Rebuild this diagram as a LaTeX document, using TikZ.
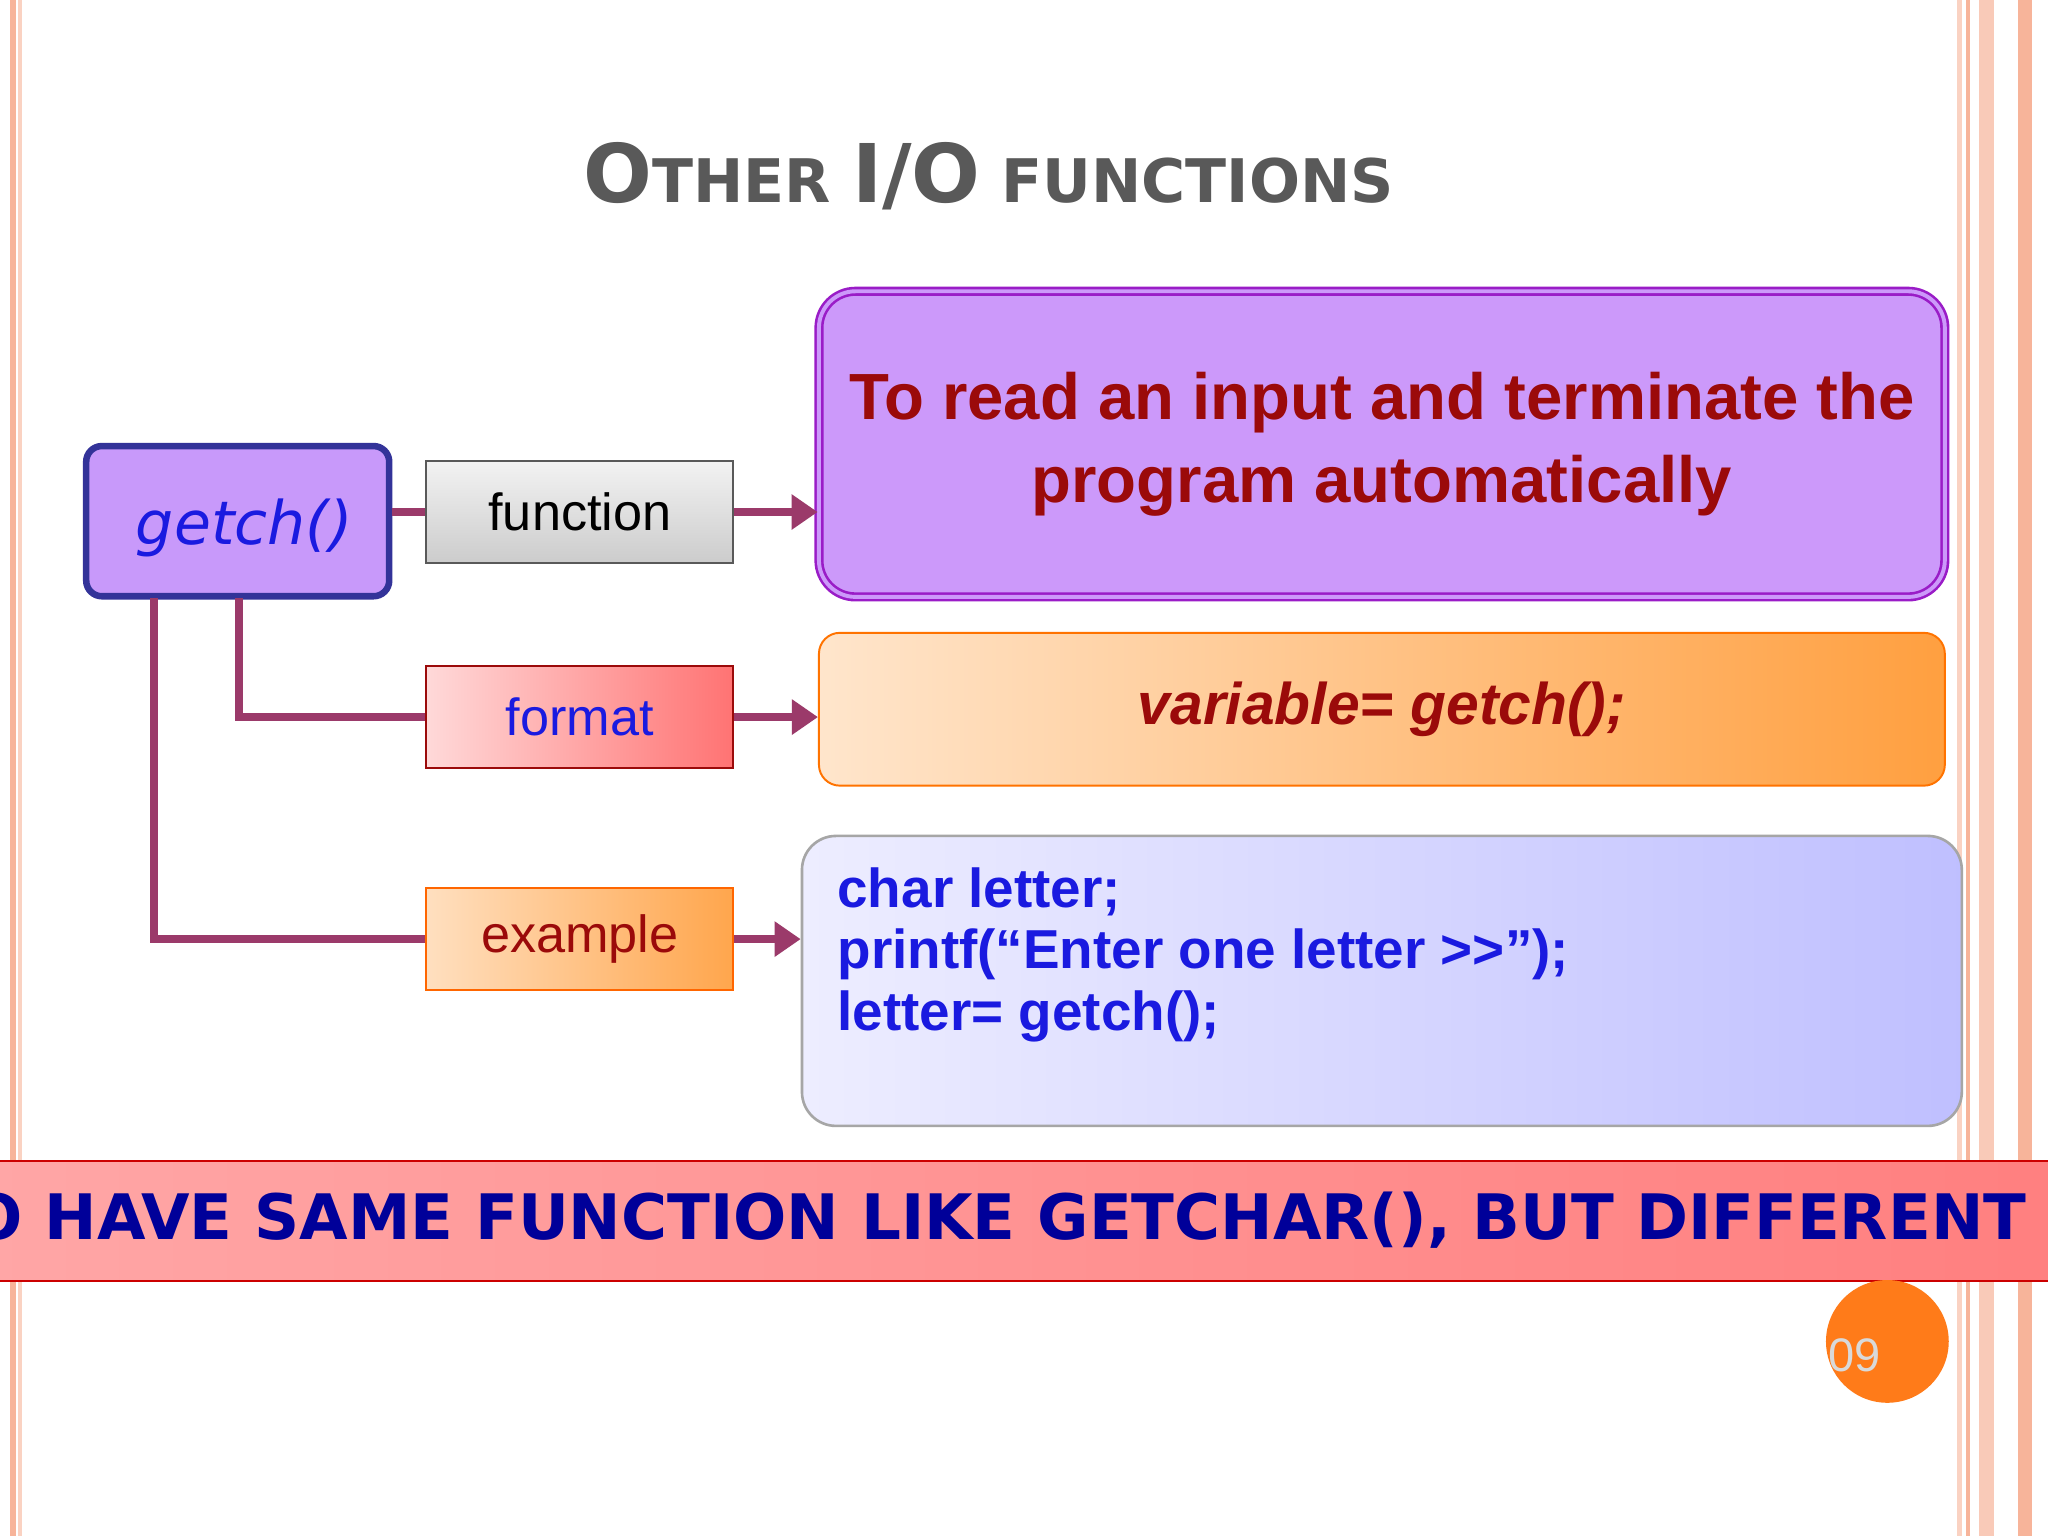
\documentclass[tikz,border=0pt]{standalone}
\usepackage{fontspec}
\setmainfont{Liberation Sans}
\newfontfamily\djfont{DejaVu Sans}
\usetikzlibrary{arrows.meta,shadings}
\definecolor{maroon}{HTML}{9B3A6A}
\definecolor{dred}{HTML}{9B0A0A}
\definecolor{cblue}{HTML}{1A1AE0}
\definecolor{salmon}{HTML}{F7B49A}
\tikzset{
 conn/.style={maroon,line width=6pt},
 arr/.style={maroon,line width=6pt,-{Triangle[length=20pt,width=26pt]}},
 lbox/.style={minimum width=235pt,minimum height=78pt,inner sep=0pt,font=\fontsize{40}{44}\selectfont,line width=1.5pt}
}
\begin{document}
\begin{tikzpicture}[x=1pt,y=-1pt]
\useasboundingbox (0,0) rectangle (1568,1176);
\fill[white] (0,0) rectangle (1568,1176);
% borders
\fill[salmon] (8,0) rectangle (12,1176);
\fill[salmon!60] (14,0) rectangle (17,1176);
\fill[salmon!60] (1498,0) rectangle (1502,1176);
\fill[salmon] (1505,0) rectangle (1508,1176);
\fill[salmon!70] (1515,0) rectangle (1527,1176);
\fill[salmon] (1545,0) rectangle (1556,1176);
% title
\node[text=gray!70!black,font=\djfont\bfseries\fontsize{46}{46}\selectfont] (title) at (757,135) {{\fontsize{62}{62}\selectfont O}THER\ {\fontsize{62}{62}\selectfont I/O}\ FUNCTIONS};
% getch box
\node[draw=blue!50!black!80,line width=5pt,fill={rgb,255:red,200;green,153;blue,250},rounded corners=12pt,minimum width=232pt,minimum height=115pt,text=cblue] (g) at (182,399) {};
\node[font=\djfont\itshape\fontsize{46}{50}\selectfont,text=cblue,inner sep=0pt] (gt) at (187,404) {getch()};
\node[lbox,draw=gray!70!black,top color=gray!10,bottom color=gray!40] (f) at (444,392) {function};
\node[lbox,draw=dred,left color=red!15,right color=red!55,text=cblue] (fm) at (444,549) {format};
\node[lbox,draw=orange!80!red,left color=orange!25,right color=orange!70,text=dred] (ex) at (444,719) {example};
% right boxes
\node[draw={rgb,255:red,154;green,28;blue,199},double={rgb,255:red,204;green,153;blue,250},double distance=3pt,line width=2pt,fill={rgb,255:red,204;green,153;blue,250},rounded corners=28pt,minimum width=862pt,minimum height=234pt,align=center,text=dred,font=\bfseries\fontsize{50}{64}\selectfont,inner sep=0pt] (p) at (1058,340) {To read an input and terminate the\\program automatically};
\node[draw=orange!90!red,line width=1.5pt,left color=orange!20,right color=orange!75,rounded corners=16pt,minimum width=862pt,minimum height=117pt,text=dred,font=\bfseries\itshape\fontsize{45}{48}\selectfont] (o) at (1058,543) {variable= getch();};
\node[draw=gray!70,line width=2pt,left color=blue!7,right color=blue!25,rounded corners=26pt,minimum width=888pt,minimum height=222pt] (b) at (1058,751) {};
\node[anchor=north west,align=left,text=cblue,font=\bfseries\fontsize{42}{47}\selectfont,inner sep=0pt] (code) at (641,664) {char letter;\\printf(“Enter one letter >{}>”);\\letter= getch();};
% connectors
\draw[conn] (g.east |- f.west) -- (f.west);
\draw[conn] (183,458) |- (fm.west);
\draw[conn] (118,458) |- (ex.west);
\draw[arr] (f.east) -- (p.west |- f.east);
\draw[arr] (fm.east) -- (o.west |- fm.east);
\draw[arr] (ex.east) -- (b.west |- ex.east);
% banner
\node[draw=red!80!black,line width=1.5pt,left color=red!35,right color=red!50,minimum width=1572pt,minimum height=92pt,anchor=north west,inner sep=0pt] (ban) at (-2,888) {};
\begin{scope}
\clip (0,888) rectangle (1568,980);
\node[anchor=east,text=blue!60!black,font=\djfont\bfseries\fontsize{48}{50}\selectfont] (bt) at (1555,934) {O HAVE SAME FUNCTION LIKE GETCHAR(), BUT DIFFERENT};
\end{scope}
% page number
\fill[orange!85!red!90] (1445,1027) circle (47);
\node[text=gray!30,font=\fontsize{36}{40}\selectfont] (pn) at (1420,1038) {09};
\end{tikzpicture}
\end{document}
